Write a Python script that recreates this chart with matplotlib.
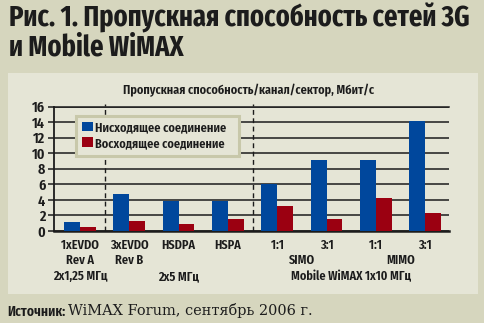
import matplotlib
matplotlib.use("Agg")
import matplotlib.pyplot as plt
import numpy as np
from matplotlib import font_manager as fm
from matplotlib.patches import Rectangle

# ---------------- data ----------------
categories = ["1xEVDO", "3xEVDO", "HSDPA", "HSPA", "1:1", "3:1", "1:1", "3:1"]
downlink = [1.2, 4.7, 3.8, 3.8, 6.0, 9.1, 9.1, 14.2]
uplink = [0.5, 1.3, 0.9, 1.5, 3.2, 1.6, 4.3, 2.3]
series_names = ["Нисходящее соединение", "Восходящее соединение"]
row2_labels = ["Rev A", "Rev B", "SIMO", "MIMO"]
row2_pos = [0, 1, 4.5, 6.5]
row3_labels = ["2x1,25 МГц", "2x5 МГц", "Mobile WiMAX 1x10 МГц"]
row3_pos = [0, 2, 5.5]
group_separators = [0.5, 3.5]
yticks = [0, 2, 4, 6, 8, 10, 12, 14, 16]
title_lines = ["Рис. 1. Пропускная способность сетей 3G", "и Mobile WiMAX"]
axis_title = "Пропускная способность/канал/сектор, Мбит/с"
source_bold = "Источник:"
source_rest = "WiMAX Forum, сентябрь 2006 г."

# ---------------- style ----------------
W, H = 484, 323
OUTER = "#d6d6be"
PANEL = "#e5e5d6"
LEGEND_EDGE = "#c8c8aa"
BLUE = "#00479c"
RED = "#9b0011"
INK = "#1c1c1c"

names = {f.name for f in fm.fontManager.ttflist}
def pick(cands, default="DejaVu Sans"):
    for c in cands:
        if c in names:
            return c
    return default

COND = pick(["Fira Sans Extra Condensed", "PT Sans Narrow", "Roboto Condensed"])
SERIF = pick(["DejaVu Serif", "Liberation Serif"], "serif")
FAM = [COND, "DejaVu Sans"]

def fx(px):
    return px / W

def fy(py):
    return 1 - py / H

fig = plt.figure(figsize=(W / 100, H / 100), dpi=100, facecolor=OUTER)
renderer = fig.canvas.get_renderer()

def fit(t, width_px):
    bb = t.get_window_extent(renderer)
    t.set_fontsize(t.get_fontsize() * width_px / bb.width)
    return t

# light panel
fig.patches.append(Rectangle((fx(8), fy(294)), fx(478) - fx(8), fy(73) - fy(294),
                             transform=fig.transFigure, facecolor=PANEL,
                             edgecolor="none", zorder=-5))

# title
t1 = fig.text(fx(9), fy(26.7), title_lines[0], family=FAM,
              weight="bold", fontsize=20, color=INK, va="baseline", ha="left")
fit(t1, 462)
fig.text(fx(9), fy(56), title_lines[1], family=FAM,
         weight="bold", fontsize=t1.get_fontsize(), color=INK,
         va="baseline", ha="left")

# axis title
at = fig.text(fx(249), fy(94), axis_title, family=FAM,
              weight="semibold", fontsize=10, color=INK, va="baseline", ha="center")
fit(at, 252)

# ---------------- axes ----------------
ax = fig.add_axes([fx(54.3), fy(231), fx(449.3) - fx(54.3), fy(106.7) - fy(231)])
ax.set_facecolor("none")
x = np.arange(len(categories))
w = 0.32
ax.bar(x - w / 2, downlink, w, color=BLUE, zorder=3)
ax.bar(x + w / 2, uplink, w, color=RED, zorder=3)

ax.set_xlim(-0.52, 7.49)
ax.set_ylim(0, 16)
ax.set_yticks(yticks)
ax.yaxis.grid(True, color=INK, lw=1.1)
ax.set_axisbelow(True)
ax.spines["right"].set_visible(False)
ax.spines["top"].set_color(INK)
ax.spines["top"].set_linewidth(1.1)
ax.spines["left"].set_color(INK)
ax.spines["left"].set_linewidth(1.3)
ax.spines["bottom"].set_color(INK)
ax.spines["bottom"].set_linewidth(1.8)
ax.tick_params(axis="y", length=4, width=1.1, color=INK, pad=2.5,
               labelsize=11, labelcolor=INK)
for lab in ax.get_yticklabels():
    lab.set_family(FAM)
    lab.set_weight("semibold")

ax.set_xticks(x)
ax.set_xticklabels([])
ax.tick_params(axis="x", length=0)

for gx in group_separators:
    ax.axvline(gx, ymin=0, ymax=1.02, color=INK, lw=1.0, ls=(0, (3.5, 2.5)),
               clip_on=False, zorder=2)

trans = ax.get_xaxis_transform()
ax_h_px = 231 - 106.7
rows = [(categories, list(x), 249.0), (row2_labels, row2_pos, 264.3),
        (row3_labels, row3_pos, 280.3)]
for labels, pos, base in rows:
    for lab, p in zip(labels, pos):
        ax.text(p, -(base - 231) / ax_h_px, lab, transform=trans, ha="center",
                va="baseline", fontsize=9.6, color=INK, family=FAM,
                weight="semibold")

# ---------------- legend ----------------
fig.patches.append(Rectangle((fx(75.5), fy(156.2)), fx(238.5) - fx(75.5),
                             fy(115.5) - fy(156.2), transform=fig.transFigure,
                             facecolor=PANEL, edgecolor=LEGEND_EDGE, lw=2.2, zorder=5))
for i, (name, col) in enumerate(zip(series_names, [BLUE, RED])):
    top = 121.7 + i * 15.5
    fig.patches.append(Rectangle((fx(82), fy(top + 9.5)), fx(93.3) - fx(82),
                                 fy(top) - fy(top + 9.5), transform=fig.transFigure,
                                 facecolor=col, edgecolor="none", zorder=6))
    lt = fig.text(fx(95), fy(top + 9.7), name, family=FAM,
                  weight="semibold", fontsize=10, color=INK, va="baseline",
                  ha="left", zorder=7)
    fit(lt, 132 if i == 0 else 130)

# ---------------- source ----------------
sb = fig.text(fx(7.5), fy(315.5), source_bold, family=FAM,
              weight="semibold", fontsize=11, color=INK, va="baseline", ha="left")
fit(sb, 58)
sr = fig.text(fx(68.5), fy(315.5), source_rest, family=[SERIF, "DejaVu Serif"],
              fontsize=12, color=INK, va="baseline", ha="left")
fit(sr, 245)

fig.savefig("out.png", dpi=100, facecolor=OUTER)
